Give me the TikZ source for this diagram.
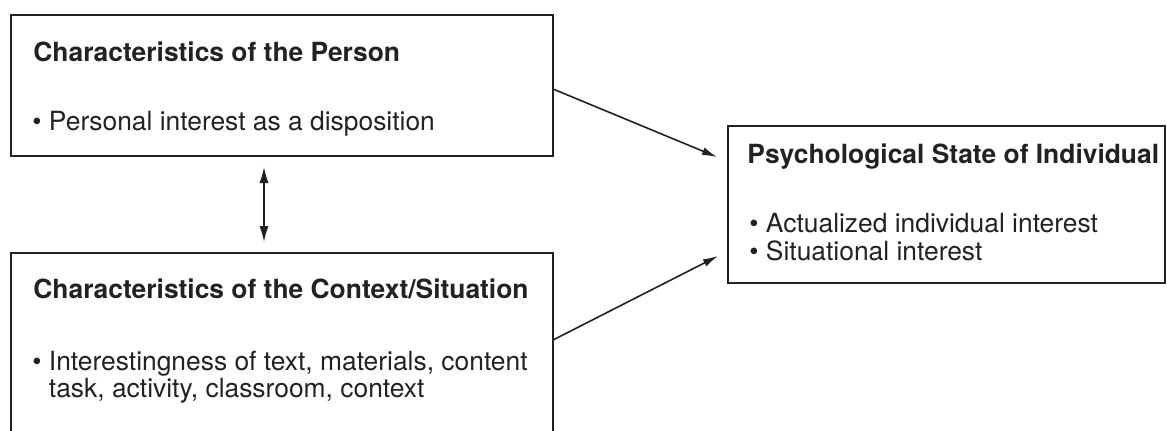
\documentclass[tikz,border=0pt]{standalone}
\usepackage{fontspec}
\setmainfont{TeX Gyre Heros}
\usetikzlibrary{calc,arrows.meta}
\definecolor{ink}{HTML}{222222}
\newcommand{\bodylines}[1]{\begin{tabular}[t]{@{}l@{}}#1\end{tabular}}
\begin{document}
\begin{tikzpicture}[x=0.5pt,y=-0.5pt,
  box/.style={draw=ink,line width=1pt,rectangle,inner sep=0pt,outer sep=0pt,anchor=north west},
  title/.style={anchor=base west,inner sep=0pt,text=ink,font=\fontsize{13.2}{13.8}\selectfont\bfseries},
  body/.style={anchor=base west,inner sep=0pt,text=ink,font=\fontsize{13.2}{13.8}\selectfont},
  conn/.style={draw=ink,line width=0.8pt,-{Latex[length=7.5pt,width=4pt]}},
  dbl/.style={draw=ink,line width=0.8pt,{Latex[length=8pt,width=4.6pt]}-{Latex[length=8pt,width=4.6pt]}}]
\clip (0,0) rectangle (1167,430);
\fill[white] (0,0) rectangle (1167,430);
% boxes
\node[box,minimum width=271pt,minimum height=70.5pt] (tl) at (11,15) {};
\node[box,minimum width=271pt,minimum height=110pt] (bl) at (11,253) {};
\node[box,minimum width=218.5pt,minimum height=78.5pt] (ps) at (728,126) {};
% texts
\node[title] (tlt) at ($(tl.north west)+(22,46)$) {Characteristics of the Person};
\node[body] (tlb) at ($(tl.north west)+(21,115)$) {\textbullet\ Personal interest as a disposition};
\node[title] (blt) at ($(bl.north west)+(22,45)$) {Characteristics of the Context/Situation};
\node[body] (blb) at ($(bl.north west)+(21,117)$) {\bodylines{\textbullet\ Interestingness of text, materials, content\\\phantom{\textbullet\ }task, activity, classroom, context}};
\node[title] (pst) at ($(ps.north west)+(19,37)$) {Psychological State of Individual};
\node[body] (psb) at ($(ps.north west)+(21,106)$) {\bodylines{\textbullet\ Actualized individual interest\\\textbullet\ Situational interest}};
% connectors
\coordinate (a1) at ($(tl.north east)+(0,74)$);
\coordinate (a2) at ($(ps.north west)+(-11,31)$);
\coordinate (b1) at ($(bl.north east)+(0,87)$);
\coordinate (b2) at ($(ps.north west)+(-10,130)$);
\coordinate (d1) at ($(tl.south west)+(253,11)$);
\coordinate (d2) at ($(bl.north west)+(253,-11)$);
\draw[conn] (a1) -- (a2);
\draw[conn] (b1) -- (b2);
\draw[dbl] (d1) -- (d2);
\end{tikzpicture}
\end{document}
